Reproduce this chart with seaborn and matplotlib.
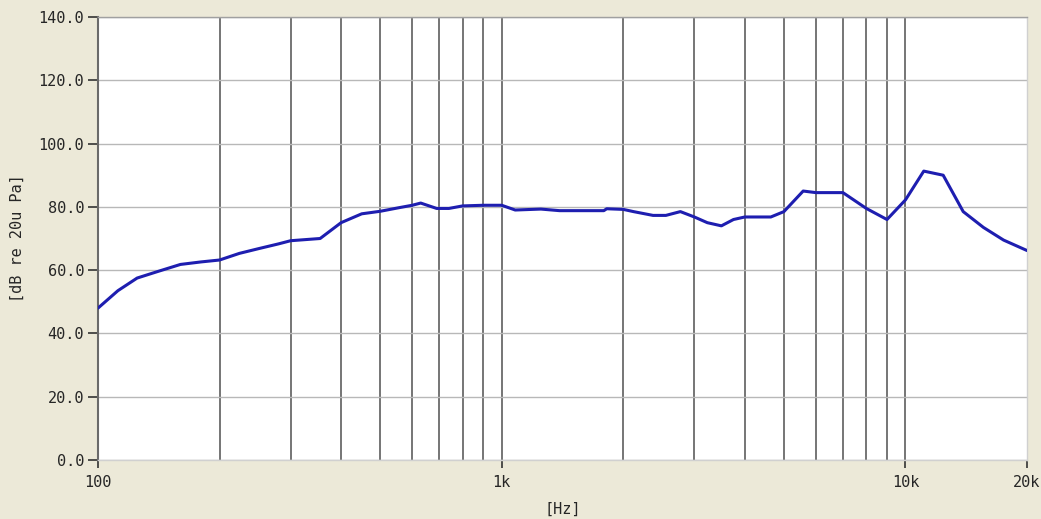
import matplotlib
matplotlib.use("Agg")
import matplotlib.pyplot as plt
import matplotlib.ticker as mticker
import seaborn as sns
import pandas as pd

# Frequency response data
freq_hz = [100, 112, 125, 140, 160, 180, 200, 224, 250, 280, 300, 355, 400, 450, 500,
           560, 600, 630, 690, 740, 800, 900, 1000, 1080, 1250, 1390, 1600, 1790, 1820,
           2000, 2120, 2370, 2550, 2770, 3000, 3230, 3500, 3750, 4000, 4640, 5000,
           5580, 6000, 7000, 8000, 9000, 10000, 11100, 12400, 13900, 15600, 17500, 20000]
level_db = [48.0, 53.5, 57.5, 59.5, 61.8, 62.6, 63.2, 65.3, 66.8, 68.3, 69.3, 70.0, 75.0, 77.8, 78.6,
            79.8, 80.5, 81.2, 79.5, 79.5, 80.3, 80.5, 80.5, 79.0, 79.3, 78.8, 78.8, 78.8, 79.4,
            79.2, 78.5, 77.3, 77.3, 78.5, 76.8, 75.0, 74.0, 76.0, 76.8, 76.8, 78.5,
            85.0, 84.5, 84.5, 79.5, 76.0, 82.2, 91.3, 90.0, 78.5, 73.5, 69.5, 66.2]

x_major = [100, 1000, 10000, 20000]
x_major_labels = ["100", "1k", "10k", "20k"]
x_grid = [200, 300, 400, 500, 600, 700, 800, 900, 1000,
          2000, 3000, 4000, 5000, 6000, 7000, 8000, 9000, 10000]
y_ticks = [0, 20, 40, 60, 80, 100, 120, 140]

df = pd.DataFrame({"Hz": freq_hz, "dB": level_db})

sns.set_style("white")
plt.rcParams["font.family"] = ["DejaVu Sans Mono", "DejaVu Sans"]

bg = "#ECE9D8"
fig = plt.figure(figsize=(10.41, 5.19), dpi=100, facecolor=bg)
ax = fig.add_axes([98 / 1041, 1 - 460 / 519, (1027 - 98) / 1041, (460 - 17) / 519])
ax.set_facecolor("white")

sns.lineplot(data=df, x="Hz", y="dB", ax=ax, color="#1E1EB0", linewidth=2.2, zorder=5)

ax.set_xscale("log")
ax.set_xlim(100, 20000)
ax.set_ylim(0, 140)

ax.xaxis.remove_overlapping_locs = False
ax.xaxis.set_major_locator(mticker.FixedLocator(x_major))
ax.xaxis.set_major_formatter(mticker.FixedFormatter(x_major_labels))
ax.xaxis.set_minor_locator(mticker.FixedLocator(x_grid))
ax.xaxis.set_minor_formatter(mticker.NullFormatter())
ax.set_yticks(y_ticks)
ax.yaxis.set_major_formatter(mticker.FormatStrFormatter("%.1f"))

ax.grid(False)
ax.grid(True, axis="x", which="minor", color="#6a6a6a", linewidth=1.3, zorder=1)
ax.grid(True, axis="y", which="major", color="#b8b8b8", linewidth=1.0, zorder=1)

ax.tick_params(axis="y", which="major", direction="out", length=7, width=1.2,
               color="#333333", labelsize=11, pad=3, left=True)
ax.tick_params(axis="x", which="major", direction="out", length=6, width=1.2,
               color="#333333", labelsize=11, pad=5, bottom=True)
ax.tick_params(axis="x", which="minor", length=0)

for side, col, lw in [("left", "#6a6a6a", 1.5), ("bottom", "#d0d0d0", 1.0),
                      ("top", "#a0a0a0", 1.0), ("right", "#d0d0d0", 1.0)]:
    ax.spines[side].set_visible(True)
    ax.spines[side].set_color(col)
    ax.spines[side].set_linewidth(lw)

ax.set_xlabel("[Hz]", fontsize=11, labelpad=8)
ax.set_ylabel("[dB re 20u Pa]", fontsize=11, labelpad=10)

fig.savefig("out.png", dpi=100, facecolor=bg)
